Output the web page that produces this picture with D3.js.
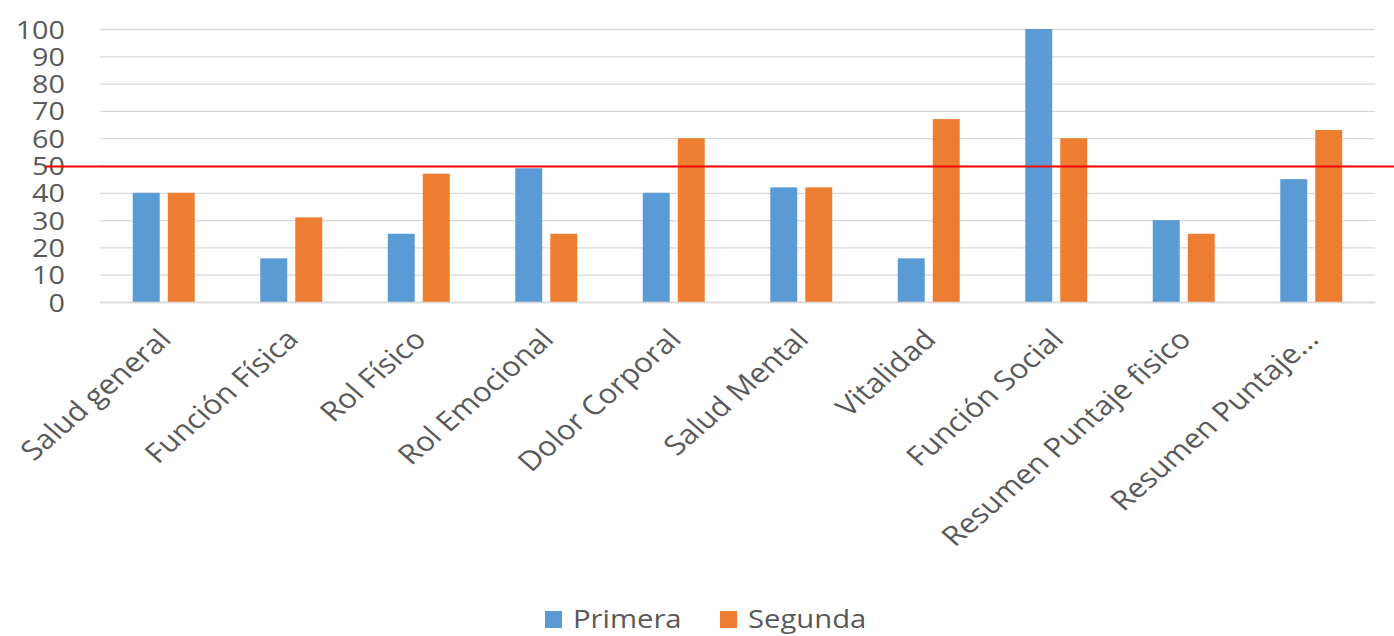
<!DOCTYPE html>
<html>
<head>
<meta charset="utf-8">
<script src="https://cdn.jsdelivr.net/npm/d3@7"></script>
<style>
  body { margin: 0; background: #fff; }
  svg { display: block; }
  svg text { font-family: "Open Sans", sans-serif; fill: #595959; }
</style>
</head>
<body>
<script>
"use strict";
var svg_width = 1394;
var svg_height = 636;

// ---data
var categories = ["Salud general", "Función Física", "Rol Físico", "Rol Emocional", "Dolor Corporal",
                  "Salud Mental", "Vitalidad", "Función Social", "Resumen Puntaje fisico", "Resumen Puntaje..."];
var series_names = ["Primera", "Segunda"];
var primera = [40, 16, 25, 49, 40, 42, 16, 100, 30, 45];
var segunda = [40, 31, 47, 25, 60, 42, 67, 60, 25, 63];
var y_ticks = [0, 10, 20, 30, 40, 50, 60, 70, 80, 90, 100];
var reference_value = 50;
var colors = ["#5b9bd5", "#ed7d31"];

var margin = {left: 100, right: 19, top: 29, bottom: 334};
var plot_w = svg_width - margin.left - margin.right;
var plot_h = svg_height - margin.top - margin.bottom;

var rows = categories.map(function(c, i)
{
    return {category: c, values: [primera[i], segunda[i]]};
});

var svg = d3.select("body").append("svg")
    .attr("width", svg_width)
    .attr("height", svg_height);

var g = svg.append("g")
    .attr("transform", "translate(" + margin.left + "," + margin.top + ")");

var x0 = d3.scaleBand()
    .domain(categories)
    .range([0, plot_w])
    .paddingInner(0.514)
    .paddingOuter(0.257);
var x1 = d3.scaleBand()
    .domain(series_names)
    .range([0, x0.bandwidth()])
    .paddingInner(0.23);
var y = d3.scaleLinear()
    .domain([0, 100])
    .range([plot_h, 0]);

// ---gridlines
var grid = g.append("g")
    .call(d3.axisLeft(y).tickValues(y_ticks).tickSize(-plot_w).tickFormat(""));
grid.select(".domain").remove();
grid.selectAll("line").attr("stroke", "#d9d9d9").attr("stroke-width", 1.3);

// ---y labels (tight, as in the original)
var yax = g.append("g")
    .attr("transform", "translate(-35,0)")
    .call(d3.axisLeft(y).tickValues(y_ticks).tickSize(0).tickPadding(0));
yax.select(".domain").remove();
yax.attr("font-family", null);
yax.selectAll("text")
    .attr("x", 0)
    .attr("dy", "0.36em")
    .attr("transform", "scale(1.15,1)")
    .style("font-size", "25px");

// ---bars
var groups = g.selectAll(".cat")
    .data(rows)
    .enter()
    .append("g")
    .attr("class", "cat")
    .attr("transform", function(d) { return "translate(" + x0(d.category) + ",0)"; });
groups.selectAll("rect")
    .data(function(d) { return d.values.map(function(v, i) { return {name: series_names[i], value: v, i: i}; }); })
    .enter()
    .append("rect")
    .attr("x", function(d) { return x1(d.name); })
    .attr("y", function(d) { return y(d.value); })
    .attr("width", x1.bandwidth())
    .attr("height", function(d) { return plot_h - y(d.value); })
    .attr("fill", function(d) { return colors[d.i]; });

// ---x axis
var xax = g.append("g")
    .attr("transform", "translate(0," + plot_h + ")")
    .call(d3.axisBottom(x0).tickSize(0));
xax.attr("font-family", null);
xax.select(".domain").attr("stroke", "#d9d9d9").attr("stroke-width", 1.3);
xax.selectAll("text")
    .attr("x", 0)
    .attr("y", 0)
    .attr("dy", 0)
    .attr("text-anchor", "end")
    .attr("transform", "translate(9,39) scale(1.15,1) rotate(-45)")
    .style("font-size", "27px");

// ---reference line at 50
svg.append("line")
    .attr("x1", 45)
    .attr("x2", svg_width)
    .attr("y1", margin.top + y(reference_value) + 1)
    .attr("y2", margin.top + y(reference_value) + 1)
    .attr("stroke", "#ff0000")
    .attr("stroke-width", 2);

// ---legend
var legend_x = [545, 720];
var legend = svg.selectAll(".legend")
    .data(series_names)
    .enter()
    .append("g")
    .attr("class", "legend")
    .attr("transform", function(d, i) { return "translate(" + legend_x[i] + ",611)"; });
legend.append("rect")
    .attr("width", 17)
    .attr("height", 17)
    .attr("fill", function(d, i) { return colors[i]; });
legend.append("text")
    .attr("transform", "translate(28,17) scale(1.17,1)")
    .style("font-size", "25px")
    .text(function(d) { return d; });
</script>
</body>
</html>
